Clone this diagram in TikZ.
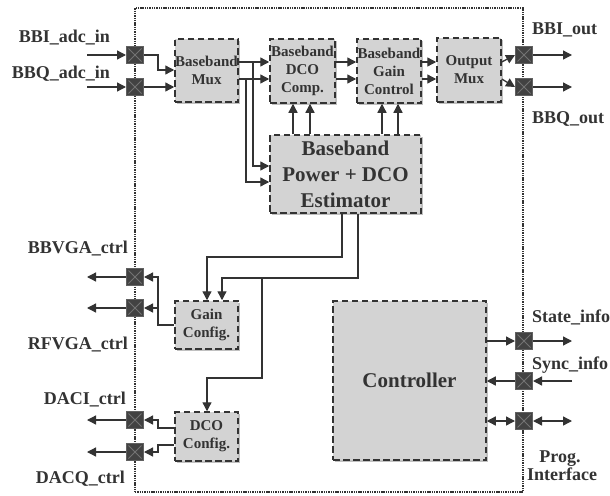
\documentclass[tikz,border=0pt]{standalone}
\usepackage{fontspec}
\setmainfont{Liberation Serif}
\usetikzlibrary{arrows.meta,calc,shadows}
\definecolor{ink}{HTML}{333333}
\definecolor{boxfill}{HTML}{D3D3D3}
\definecolor{shadowc}{HTML}{C0C0C0}
\definecolor{portfill}{HTML}{424242}
\begin{document}
\begin{tikzpicture}[x=1pt,y=-1pt,
  font=\rmfamily\bfseries, text=ink,
  tip/.tip={Triangle[length=9pt,width=9pt]},
  arr/.style={draw=ink,line width=1.3pt,-tip},
  darr/.style={draw=ink,line width=1.3pt,tip-tip},
  blk/.style={draw=ink,fill=boxfill,line width=1.5pt,dash pattern=on 6.5pt off 3.5pt,
    inner sep=0pt,align=center,text=ink,
    drop shadow={shadow xshift=2pt,shadow yshift=-2pt,fill=shadowc,opacity=1}},
  small/.style={font=\rmfamily\bfseries\fontsize{15}{18}\selectfont},
  large/.style={font=\rmfamily\bfseries\fontsize{21}{26}\selectfont},
  lbl/.style={font=\rmfamily\bfseries\fontsize{18}{20}\selectfont,inner sep=0pt},
  port/.style={draw=black!62,fill=portfill,line width=1pt,minimum size=17pt,inner sep=0pt,
    path picture={\draw[black!55,line width=0.9pt]
      ([shift={(2pt,2pt)}]path picture bounding box.south west) -- ([shift={(-2pt,-2pt)}]path picture bounding box.north east)
      ([shift={(2pt,-2pt)}]path picture bounding box.north west) -- ([shift={(-2pt,2pt)}]path picture bounding box.south east);}}
]
\useasboundingbox (0,0) rectangle (610,495);
\fill[white] (0,0) rectangle (610,495);

% outer boundary
\node[draw=ink,line width=1.5pt,dash pattern=on 1.4pt off 0.9pt,minimum width=388pt,minimum height=484pt,inner sep=0pt] (outer) at (329,250) {};

% blocks
\node[blk,small,minimum width=63pt,minimum height=63pt] (mux) at (206.5,70.5) {Baseband\\Mux};
\node[blk,small,minimum width=65pt,minimum height=64pt] (dcoc) at (302.5,71) {Baseband\\DCO\\Comp.};
\node[blk,small,minimum width=64pt,minimum height=64pt] (gainc) at (389,71) {Baseband\\Gain\\Control};
\node[blk,small,minimum width=64pt,minimum height=64pt] (omux) at (469,70) {Output\\Mux};
\node[blk,large,minimum width=151pt,minimum height=78pt] (est) at (345.5,174) {Baseband\\Power + DCO\\Estimator};
\node[blk,small,minimum width=63pt,minimum height=48pt] (gcfg) at (206.5,325) {Gain\\Config.};
\node[blk,small,minimum width=63pt,minimum height=49pt] (dcfg) at (206.5,436.5) {DCO\\Config.};
\node[blk,large,minimum width=153pt,minimum height=159pt] (ctrl) at (409.5,380.5) {Controller};

% ports
\node[port] (pI) at (135,55) {};
\node[port] (pQ) at (135,87) {};
\node[port] (pBB) at (135,277) {};
\node[port] (pRF) at (135,308) {};
\node[port] (pDI) at (135,420) {};
\node[port] (pDQ) at (135,452) {};
\node[port] (pOI) at (524,55) {};
\node[port] (pOQ) at (524,87) {};
\node[port] (pSt) at (524,341) {};
\node[port] (pSy) at (524,381) {};
\node[port] (pPr) at (524,421) {};

% free ends
\coordinate (inI) at (87,55);
\coordinate (inQ) at (87,87);
\coordinate (oBB) at (87,277);
\coordinate (oRF) at (87,308);
\coordinate (oDI) at (87,420);
\coordinate (oDQ) at (87,452);
\coordinate (oOI) at (572,55);
\coordinate (oOQ) at (572,87);
\coordinate (oSt) at (572,341);
\coordinate (oSy) at (572,381);
\coordinate (oPr) at (572,421);

% labels
\node[lbl,anchor=base east] (lI) at (110,43) {BBI\_adc\_in};
\node[lbl,anchor=base east] (lQ) at (110,78) {BBQ\_adc\_in};
\node[lbl,anchor=base east] (lBB) at (128,253) {BBVGA\_ctrl};
\node[lbl,anchor=base east] (lRF) at (128,349) {RFVGA\_ctrl};
\node[lbl,anchor=base east] (lDI) at (126,404) {DACI\_ctrl};
\node[lbl,anchor=base east] (lDQ) at (125,483) {DACQ\_ctrl};
\node[lbl,anchor=base west] (lOI) at (532,35) {BBI\_out};
\node[lbl,anchor=base west] (lOQ) at (532,123) {BBQ\_out};
\node[lbl,anchor=base west] (lSt) at (532,322) {State\_info};
\node[lbl,anchor=base west] (lSy) at (532,369) {Sync\_info};
\node[lbl,anchor=base] (lP1) at (560,462) {Prog.};
\node[lbl,anchor=base] (lP2) at (562,480) {Interface};

% inputs
\draw[arr] (inI) -- (pI.west);
\draw[arr] (inQ) -- (pQ.west);
\draw[arr] (pI.east) -| (158,70) -- (mux.west |- 0,70);
\draw[arr] (pQ.east) -- (mux.west |- pQ);

% mux to DCO comp and estimator
\draw[arr] (mux.east |- 0,62) -- (dcoc.west |- 0,62);
\draw[arr] (mux.east |- 0,79) -- (dcoc.west |- 0,79);
\draw[arr] (253,62) -- (253,166) -- (est.west |- 0,166);
\draw[arr] (246,79) -- (246,182) -- (est.west |- 0,182);

% chain
\draw[arr] (dcoc.east |- 0,62) -- (gainc.west |- 0,62);
\draw[arr] (dcoc.east |- 0,79) -- (gainc.west |- 0,79);
\draw[arr] (gainc.east |- 0,62) -- (omux.west |- 0,62);
\draw[arr] (gainc.east |- 0,79) -- (omux.west |- 0,79);
\draw[arr] (omux.east |- 0,62) -- (pOI.west);
\draw[arr] (omux.east |- 0,79) -- (pOQ.west);
\draw[arr] (pOI.east) -- (oOI);
\draw[arr] (pOQ.east) -- (oOQ);

% estimator feedback
\draw[arr] (est.north -| 293,0) -- (dcoc.south -| 293,0);
\draw[arr] (est.north -| 310,0) -- (dcoc.south -| 310,0);
\draw[arr] (est.north -| 382,0) -- (gainc.south -| 382,0);
\draw[arr] (est.north -| 398,0) -- (gainc.south -| 398,0);

% estimator to configs
\draw[arr] (est.south -| 342,0) |- (207,257) -- (gcfg.north -| 207,0);
\draw[arr] (est.south -| 358,0) |- (222,278) -- (gcfg.north -| 222,0);
\draw[arr] (262,278) -- (262,378) -| (dcfg.north -| 207,0);

% gain config outputs
\draw[arr] (gcfg.west) -| (158,277) -- (pBB.east);
\draw[arr] (158,308) -- (pRF.east);
\draw[arr] (pBB.west) -- (oBB);
\draw[arr] (pRF.west) -- (oRF);

% dco config outputs
\draw[arr] (dcfg.west |- 0,428) -| (158,420) -- (pDI.east);
\draw[arr] (dcfg.west |- 0,445) -| (158,452) -- (pDQ.east);
\draw[arr] (pDI.west) -- (oDI);
\draw[arr] (pDQ.west) -- (oDQ);

% controller
\draw[arr] (ctrl.east |- pSt) -- (pSt.west);
\draw[arr] (pSt.east) -- (oSt);
\draw[arr] (oSy) -- (pSy.east);
\draw[arr] (pSy.west) -- (ctrl.east |- pSy);
\draw[darr] (ctrl.east |- pPr) -- (pPr.west);
\draw[darr] (pPr.east) -- (oPr);
\end{tikzpicture}
\end{document}
